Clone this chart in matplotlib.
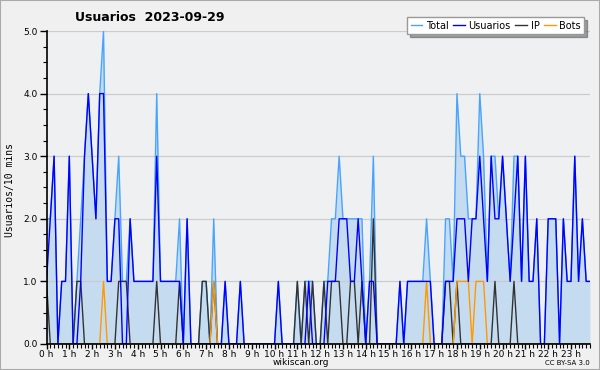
import matplotlib
matplotlib.use('Agg')
import matplotlib.pyplot as plt
import numpy as np
from matplotlib.ticker import MultipleLocator, FixedLocator, FormatStrFormatter
from matplotlib.patches import Rectangle

title = "Usuarios  2023-09-29"
ylabel = "Usuarios/10 mins"
hour_labels = [f"{h} h" for h in range(24)]

# values per 10 minutes (144 slots), one row per hour
total = [
    2, 2, 3, 0, 1, 1,   3, 0, 1, 2, 3, 4,   3, 2, 4, 5, 1, 1,   2, 3, 1, 1, 2, 1,
    1, 1, 1, 1, 1, 4,   1, 1, 1, 1, 1, 2,   0, 2, 0, 0, 0, 1,   1, 0, 2, 0, 0, 1,
    0, 0, 0, 1, 0, 0,   0, 0, 0, 0, 0, 0,   0, 1, 0, 0, 0, 0,   1, 0, 1, 1, 1, 0,
    0, 1, 1, 2, 2, 3,   2, 2, 2, 2, 2, 2,   0, 1, 3, 0, 0, 0,   0, 0, 0, 1, 0, 1,
    1, 1, 1, 1, 2, 1,   0, 0, 0, 2, 2, 1,   4, 3, 3, 2, 2, 2,   4, 3, 1, 3, 3, 2,
    3, 2, 1, 3, 3, 1,   3, 1, 1, 2, 0, 0,   2, 2, 2, 0, 2, 1,   1, 3, 1, 2, 1, 1,
]
usuarios = [
    1, 2, 3, 0, 1, 1,   3, 0, 0, 1, 3, 4,   3, 2, 4, 4, 1, 1,   2, 2, 0, 0, 2, 1,
    1, 1, 1, 1, 1, 3,   1, 1, 1, 1, 1, 1,   0, 2, 0, 0, 0, 0,   0, 0, 0, 0, 0, 1,
    0, 0, 0, 1, 0, 0,   0, 0, 0, 0, 0, 0,   0, 1, 0, 0, 0, 0,   0, 0, 0, 1, 0, 0,
    0, 0, 1, 1, 1, 2,   2, 2, 1, 1, 2, 1,   0, 1, 1, 0, 0, 0,   0, 0, 0, 1, 0, 1,
    1, 1, 1, 1, 1, 1,   0, 0, 0, 1, 1, 1,   2, 2, 2, 1, 2, 2,   3, 2, 1, 3, 2, 2,
    3, 2, 1, 2, 3, 1,   3, 1, 1, 2, 0, 0,   2, 2, 2, 0, 2, 1,   1, 3, 1, 2, 1, 1,
]
ip = [
    1, 0, 0, 0, 0, 0,   0, 0, 1, 1, 0, 0,   0, 0, 0, 0, 0, 0,   0, 1, 1, 1, 0, 0,
    0, 0, 0, 0, 0, 1,   0, 0, 0, 0, 0, 1,   0, 0, 0, 0, 0, 1,   1, 0, 1, 0, 0, 0,
    0, 0, 0, 0, 0, 0,   0, 0, 0, 0, 0, 0,   0, 0, 0, 0, 0, 0,   1, 0, 1, 0, 1, 0,
    0, 1, 0, 1, 1, 1,   0, 0, 1, 1, 0, 1,   0, 0, 2, 0, 0, 0,   0, 0, 0, 0, 0, 0,
    0, 0, 0, 0, 0, 0,   0, 0, 0, 1, 1, 0,   1, 0, 0, 0, 0, 0,   0, 0, 0, 0, 1, 0,
    0, 0, 0, 1, 0, 0,   0, 0, 0, 0, 0, 0,   0, 0, 0, 0, 0, 0,   0, 0, 0, 0, 0, 0,
]
bots = [
    0, 0, 0, 0, 0, 0,   0, 0, 0, 0, 0, 0,   0, 0, 0, 1, 0, 0,   0, 0, 0, 0, 0, 0,
    0, 0, 0, 0, 0, 0,   0, 0, 0, 0, 0, 0,   0, 0, 0, 0, 0, 0,   0, 0, 1, 0, 0, 0,
    0, 0, 0, 0, 0, 0,   0, 0, 0, 0, 0, 0,   0, 0, 0, 0, 0, 0,   0, 0, 0, 0, 0, 0,
    0, 0, 0, 0, 0, 0,   0, 0, 0, 0, 0, 0,   0, 0, 0, 0, 0, 0,   0, 0, 0, 0, 0, 0,
    0, 0, 0, 0, 1, 0,   0, 0, 0, 0, 0, 0,   1, 1, 1, 1, 0, 1,   1, 1, 0, 0, 0, 0,
    0, 0, 0, 0, 0, 0,   0, 0, 0, 0, 0, 0,   0, 0, 0, 0, 0, 0,   0, 0, 0, 0, 0, 0,
]
series_names = ["Total", "Usuarios", "IP", "Bots"]

narrow = ['Liberation Sans Narrow', 'DejaVu Sans']

fig = plt.figure(figsize=(6, 3.7), dpi=100)
fig.patch.set_facecolor('#f0f0f0')
fig.patches.append(Rectangle((0, 0), 1, 1, transform=fig.transFigure, fill=False,
                             edgecolor='#aaaaaa', lw=1.5))

ax = fig.add_axes([0.0775, 0.0703, 0.9058, 0.8459])
ax.set_facecolor('#eff0f2')
x = np.arange(len(total))

ax.fill_between(x, total, color='#c5dcf0', lw=0, zorder=1)
ax.set_axisbelow('line')
ax.yaxis.grid(True, color='#cccccc', lw=0.9)
l_total, = ax.plot(x, total, color='#48a4ff', lw=1.0, zorder=2)
l_ip, = ax.plot(x, ip, color='#333333', lw=1.0, zorder=2.1)
l_bots, = ax.plot(x, bots, color='#ff9900', lw=1.0, zorder=2.2)
l_us, = ax.plot(x, usuarios, color='#0000ff', lw=1.0, zorder=2.3)

ax.set_xlim(0, len(total) - 1)
ax.set_ylim(0, 5)
for s in ['top', 'right']:
    ax.spines[s].set_visible(False)
ax.spines['left'].set_linewidth(1.2)
ax.spines['bottom'].set_linewidth(1.2)

ax.xaxis.set_major_locator(FixedLocator(np.arange(0, 144, 6)))
ax.set_xticklabels(hour_labels, fontsize=6.5, family=narrow)
ax.xaxis.set_minor_locator(MultipleLocator(1))
ax.yaxis.set_major_locator(MultipleLocator(1))
ax.yaxis.set_minor_locator(MultipleLocator(0.25))
ax.yaxis.set_major_formatter(FormatStrFormatter('%.1f'))
for lab in ax.get_yticklabels():
    lab.set_fontsize(6.5)
    lab.set_family(narrow)
ax.tick_params(axis='x', which='major', length=3.5, width=1, pad=0.5)
ax.tick_params(axis='x', which='minor', length=3, width=0.8)
ax.tick_params(axis='y', which='major', length=5, width=1, pad=1.5)
ax.tick_params(axis='y', which='minor', length=3, width=0.8)

fig.text(0.25, 0.954, title, ha='center', va='center', fontsize=9,
         fontweight='bold', family=narrow)
fig.text(0.017, 0.486, ylabel, rotation=90, ha='center', va='center',
         fontsize=7, family='DejaVu Sans Mono')
fig.text(0.502, 0.021, "wikiscan.org", ha='center', va='center', fontsize=6.5, family=narrow)
fig.text(0.983, 0.02, "CC BY-SA 3.0", ha='right', va='center', fontsize=5, family=narrow)

leg = fig.legend([l_total, l_us, l_ip, l_bots], series_names, loc='upper right',
                 bbox_to_anchor=(0.982, 0.966), ncol=4,
                 handlelength=1.2, columnspacing=0.5, handletextpad=0.35,
                 borderpad=0.35, fancybox=False, shadow=True, frameon=True,
                 prop={'family': narrow, 'size': 7})
leg.get_frame().set_edgecolor('#999999')
leg.get_frame().set_facecolor('white')

fig.savefig('out.png', dpi=100, facecolor=fig.get_facecolor())
